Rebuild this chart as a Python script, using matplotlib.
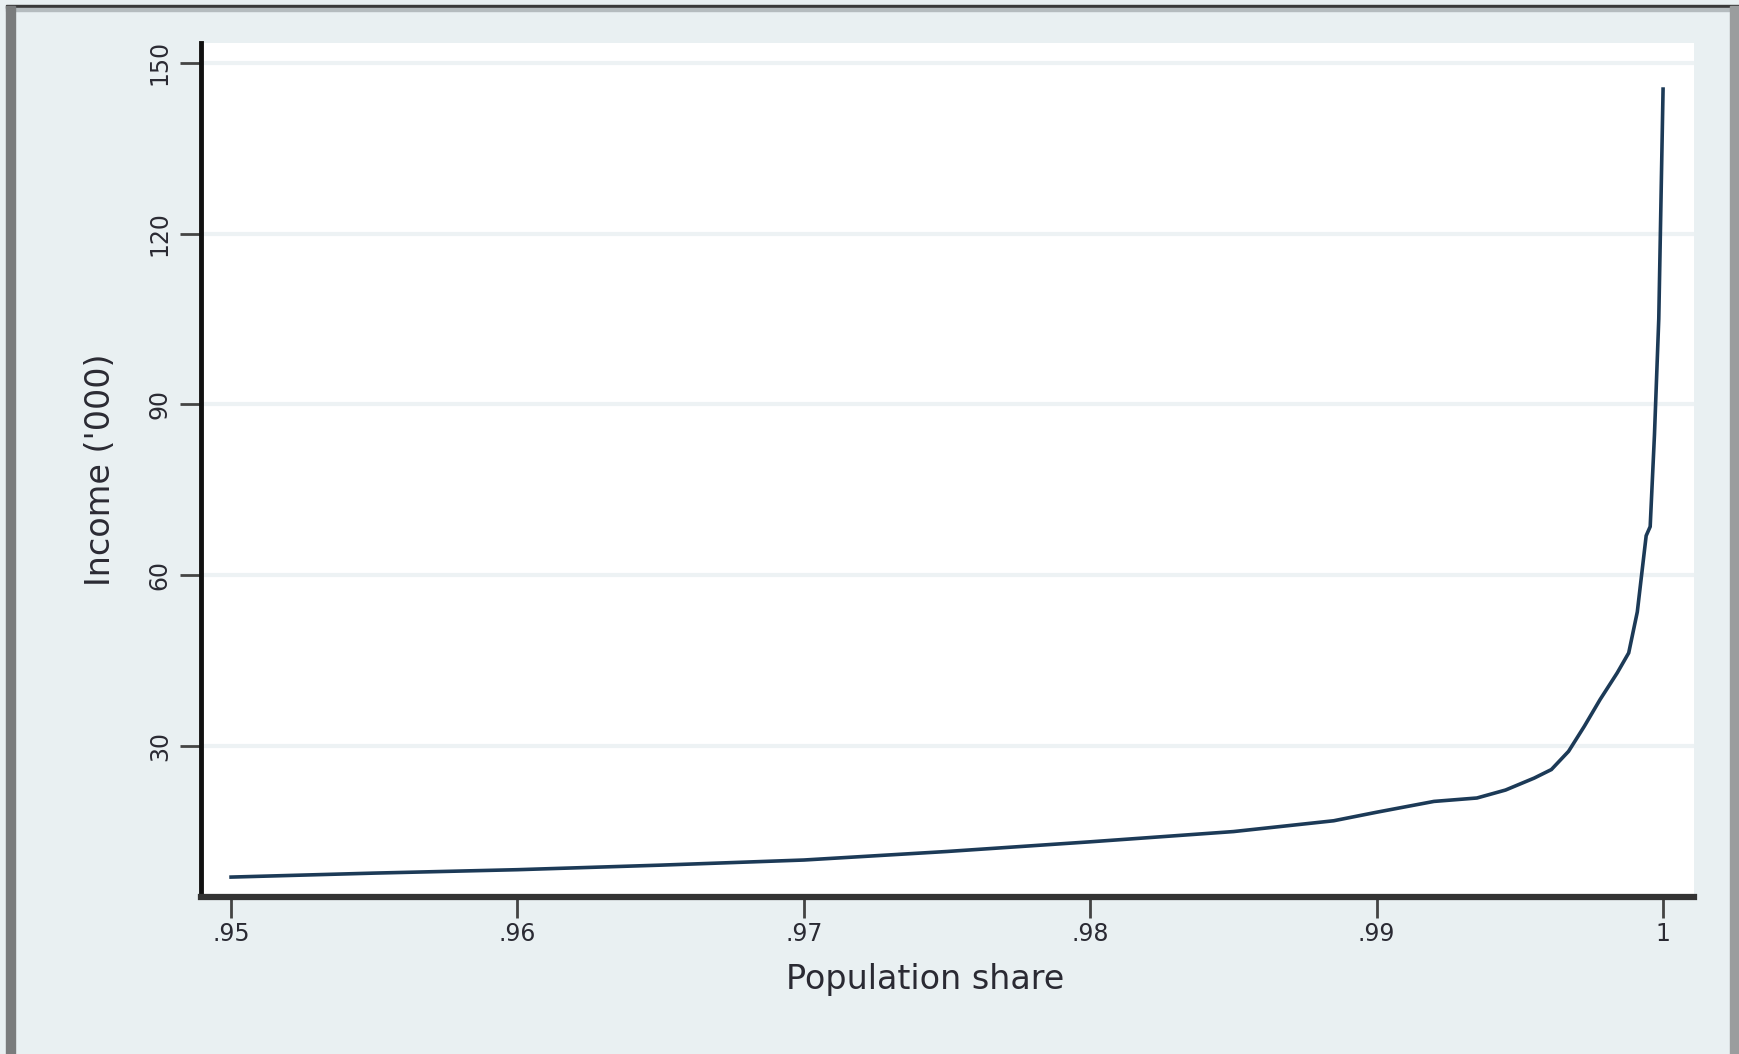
import matplotlib
matplotlib.use("Agg")
import matplotlib.pyplot as plt
from matplotlib.patches import Rectangle

# valores (parcela da populacao x renda em milhares)
share = [0.95, 0.955, 0.96, 0.965, 0.97, 0.975, 0.98, 0.985, 0.9885, 0.990,
         0.992, 0.9935, 0.9945, 0.9955, 0.9961, 0.9967, 0.99725, 0.9978,
         0.9984, 0.9988, 0.9991, 0.99941, 0.99955, 0.9997, 0.99985, 1.0]
income = [6.9, 7.6, 8.2, 9.0, 9.9, 11.4, 13.1, 14.9, 16.8, 18.3,
          20.2, 20.8, 22.2, 24.3, 25.8, 29.0, 33.4, 38.1,
          42.8, 46.3, 53.5, 66.9, 68.5, 84.7, 105.0, 145.4]

xticks = [0.95, 0.96, 0.97, 0.98, 0.99, 1.0]
xlabels = [".95", ".96", ".97", ".98", ".99", "1"]
yticks = [30, 60, 90, 120, 150]

fundo = "#e9f0f2"
texto = "#2a2a33"

fig = plt.figure(figsize=(17.4, 10.54), dpi=100, facecolor=fundo)
ax = fig.add_axes([201 / 1740, 1 - 897 / 1054, (1694 - 201) / 1740, (897 - 43) / 1054])
ax.set_facecolor("white")

ax.plot(share, income, color="#1c3a57", linewidth=2.6, solid_joinstyle="miter")

ax.set_xlim(0.94895, 1.00108)
ax.set_ylim(3.4, 153.5)
ax.set_xticks(xticks)
ax.set_xticklabels(xlabels)
ax.set_yticks(yticks)
ax.set_yticklabels([str(v) for v in yticks], rotation=90, va="center")

ax.grid(axis="y", color="#edf2f4", linewidth=3)
ax.set_axisbelow(True)

for lado in ["top", "right"]:
    ax.spines[lado].set_visible(False)
ax.spines["left"].set_linewidth(3.5)
ax.spines["left"].set_color("#111111")
ax.spines["bottom"].set_linewidth(4.5)
ax.spines["bottom"].set_color("#333333")

ax.tick_params(axis="both", length=15, width=2, color="#444444",
               labelsize=17, labelcolor=texto)
ax.tick_params(axis="x", pad=3)
ax.tick_params(axis="y", pad=6)

ax.set_xlabel("Population share", fontsize=24, color=texto, labelpad=12)
ax.xaxis.label.set_x((925 - 201) / 1493)
ax.set_ylabel("Income ('000)", fontsize=24, color=texto, labelpad=22)

# moldura parcial do grafico original
fig.patches.append(Rectangle((6 / 1740, 1 - 8 / 1054), 1, 3 / 1054,
                             transform=fig.transFigure, color="#3a3a3a"))
fig.patches.append(Rectangle((6 / 1740, 1 - 11 / 1054), 1, 3 / 1054,
                             transform=fig.transFigure, color="#b5bcbf"))
fig.patches.append(Rectangle((6 / 1740, 0), 9 / 1740, 1 - 6 / 1054,
                             transform=fig.transFigure, color="#7a7c7d"))
fig.patches.append(Rectangle((1730 / 1740, 0), 10 / 1740, 1 - 6 / 1054,
                             transform=fig.transFigure, color="#9a9d9e"))

fig.savefig("out.png", dpi=100, facecolor=fundo)
